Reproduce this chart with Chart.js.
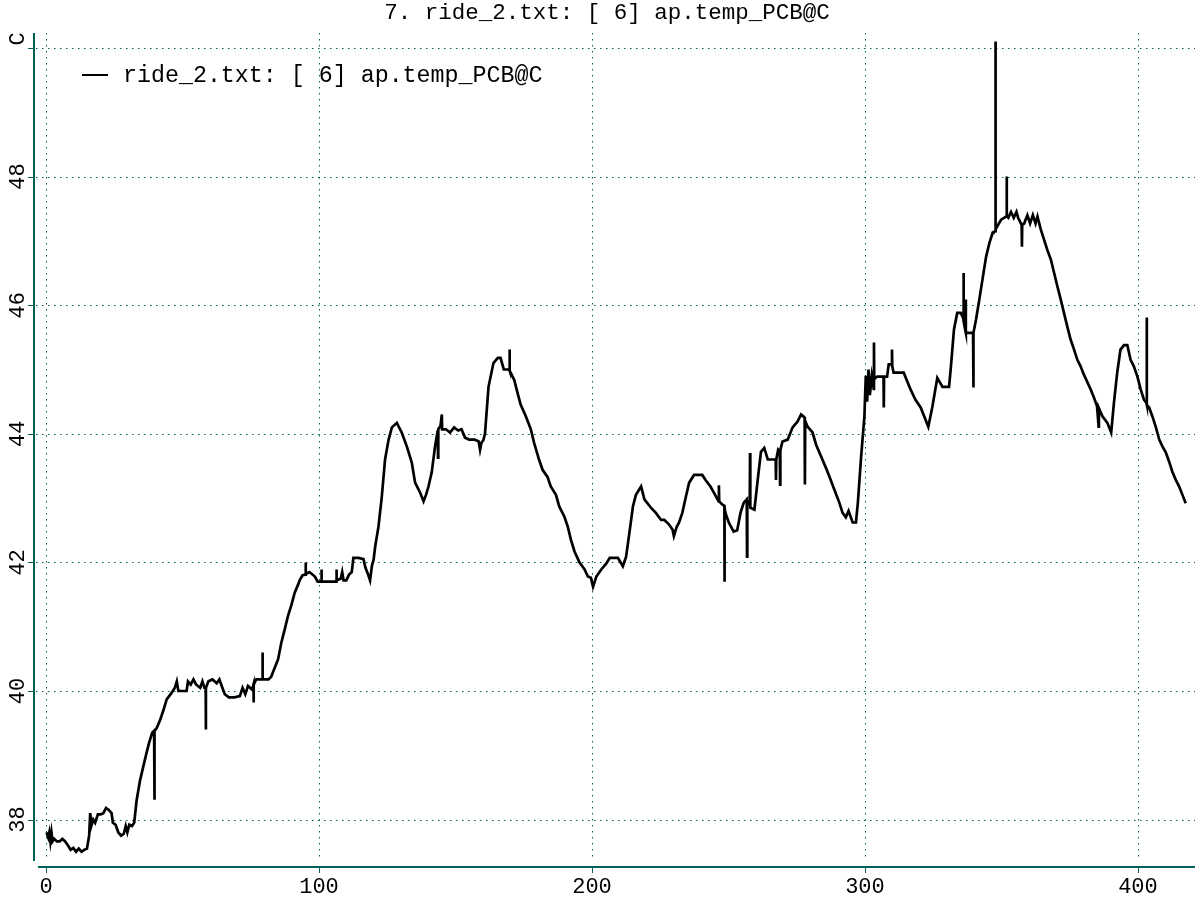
<!DOCTYPE html>
<html>
<head>
<meta charset="utf-8">
<script src="https://cdn.jsdelivr.net/npm/chart.js@4.4.1/dist/chart.umd.min.js"></script>
<style>
  body { margin: 0; background: #fff; }
  #wrap { width: 1200px; height: 900px; }
</style>
</head>
<body>
<div id="wrap"><canvas id="tempChart" width="1200" height="900"></canvas></div>
<script>
// Chart text
const titleText = "7. ride_2.txt: [ 6] ap.temp_PCB@C";
const seriesLabel = "ride_2.txt: [ 6] ap.temp_PCB@C";

// Axis ticks
const xTicks = [0, 100, 200, 300, 400];
const yTicks = [38, 40, 42, 44, 46, 48, 50];
const yTickLabels = ["38", "40", "42", "44", "46", "48", "C"];

// Samples (x position, temperature in C)
const sampleX = [
  0.2, 0.8, 1.2, 1.6, 2.0, 2.4, 3.0, 4.0, 5.0, 6.0, 7.0, 8.0, 9.0, 10.0, 11.0, 12.0, 13.0, 14.0, 15.0,
  15.8, 16.2, 16.6, 17.3, 18.0, 19.0, 20.0, 21.0, 22.0, 23.0, 24.0, 24.5, 25.5, 26.5, 27.5, 28.5, 29.2, 29.8,
  30.5, 31.5, 32.3, 33.2, 34.4, 35.6, 36.9, 37.8, 38.9, 39.6, 39.7, 39.8, 40.5, 41.8, 43.0, 44.2, 46.0,
  47.2, 47.9, 48.5, 50.0, 51.5, 52.0, 53.0, 54.0, 55.0, 56.5, 57.3, 58.0, 58.5, 58.55, 58.6, 59.5, 61.0,
  62.5, 63.5, 64.6, 65.5, 67.0, 69.0, 71.0, 72.0, 73.0, 74.0, 75.5, 76.0, 76.05, 76.1, 77.0, 79.2, 79.3, 79.4,
  81.5, 82.5, 83.2, 85.0, 86.2, 87.4, 88.6, 89.9, 91.1, 92.3, 93.0, 94.0, 95.0, 95.1, 95.2, 96.5, 98.5,
  99.5, 100.8, 100.9, 101.0, 104.0, 106.3, 106.4, 106.5, 108.0, 108.5, 109.0, 110.0, 111.0, 112.0, 112.6,
  114.5, 116.3, 117.0, 118.0, 118.7, 119.4, 120.0, 120.6, 121.8, 123.0, 124.2, 125.5, 126.7, 128.5, 130.3,
  132.2, 134.0, 135.2, 137.1, 138.3, 139.2, 140.1, 141.3, 142.5, 143.5, 143.6, 143.7, 144.5, 145.0, 145.1,
  146.5, 148.0, 149.5, 151.0, 152.2, 153.5, 155.0, 157.0, 158.5, 159.0, 159.5, 160.2, 160.8, 162.1, 163.9,
  165.5, 166.5, 167.7, 169.0, 169.7, 169.8, 169.9, 170.2, 171.5, 172.7, 173.9, 175.8, 177.6, 178.8, 180.6,
  181.9, 183.7, 184.9, 186.8, 188.0, 189.9, 191.1, 192.3, 193.6, 195.4, 197.3, 198.5, 199.6, 200.4, 201.6,
  203.4, 205.2, 206.5, 209.5, 211.3, 212.5, 213.7, 215.0, 216.1, 218.0, 219.2, 221.6, 223.4, 225.3, 226.5,
  228.0, 229.5, 230.0, 231.0, 231.9, 233.1, 234.4, 235.6, 237.4, 240.4, 241.6, 243.4, 244.7, 246.4, 246.5,
  246.6, 247.7, 248.5, 248.55, 248.6, 248.9, 250.1, 251.9, 253.2, 254.4, 255.6, 256.7, 256.8, 256.9, 257.8,
  257.9, 258.0, 259.5, 260.7, 261.9, 263.1, 264.4, 267.3, 267.4, 267.5, 268.2, 268.8, 268.9, 269.0, 269.8,
  271.7, 273.5, 275.3, 276.6, 277.9, 278.0, 278.1, 279.0, 280.8, 282.1, 283.9, 285.7, 287.0, 288.8, 290.6,
  291.8, 293.0, 294.0, 295.5, 296.7, 297.4, 298.6, 299.8, 300.3, 300.8, 301.3, 301.8, 302.5, 303.2, 303.3,
  303.4, 304.5, 306.8, 306.9, 307.0, 308.1, 308.7, 309.8, 309.9, 310.0, 310.5, 312.5, 314.2, 316.7, 318.5,
  320.4, 322.2, 323.2, 324.7, 326.5, 328.4, 330.8, 331.4, 332.6, 333.8, 335.1, 336.0, 336.1, 336.2, 336.8,
  336.9, 337.0, 338.9, 339.6, 339.7, 339.8, 340.7, 341.9, 343.2, 344.4, 345.6, 346.8, 347.7, 347.8, 347.9,
  348.1, 349.9, 351.8, 351.9, 352.0, 352.5, 353.5, 354.5, 355.5, 356.1, 357.4, 357.5, 357.6, 358.3, 359.5,
  360.5, 361.5, 362.5, 363.2, 364.4, 365.6, 366.8, 368.1, 369.3, 370.5, 371.7, 372.9, 374.1, 375.3, 376.6,
  377.8, 379.0, 380.2, 381.5, 382.7, 383.9, 385.0, 385.6, 385.7, 387.0, 388.8, 390.2, 391.2, 392.4, 393.6,
  394.9, 396.1, 397.3, 398.5, 399.8, 401.0, 402.2, 403.1, 403.2, 403.3, 404.1, 405.3, 406.5, 407.8, 409.0,
  410.2, 411.4, 412.6, 413.9, 415.1, 416.3, 417.5
];
const tempC = [
  37.80, 37.72, 37.80, 37.66, 37.80, 37.66, 37.70, 37.66, 37.66, 37.70, 37.66, 37.60, 37.53, 37.56, 37.50, 37.55, 37.50, 37.53, 37.55,
  37.75, 38.10, 37.90, 38.00, 37.95, 38.08, 38.08, 38.10, 38.18, 38.15, 38.10, 37.95, 37.92, 37.80, 37.75, 37.78, 37.90, 37.80,
  37.92, 37.90, 37.95, 38.30, 38.60, 38.82, 39.05, 39.20, 39.35, 39.38, 38.31, 39.38, 39.42, 39.55, 39.70, 39.87, 39.97,
  40.05, 40.15, 40.00, 40.00, 40.00, 40.15, 40.10, 40.18, 40.10, 40.05, 40.15, 40.05, 40.05, 39.40, 40.05, 40.15, 40.18,
  40.12, 40.18, 40.05, 39.95, 39.90, 39.90, 39.92, 40.05, 39.95, 40.08, 40.02, 40.10, 39.82, 40.10, 40.18, 40.18, 40.60, 40.18,
  40.18, 40.22, 40.30, 40.49, 40.75, 40.95, 41.16, 41.34, 41.53, 41.65, 41.73, 41.80, 41.81, 42.00, 41.82, 41.85, 41.78,
  41.70, 41.70, 41.89, 41.70, 41.70, 41.70, 41.89, 41.72, 41.75, 41.85, 41.72, 41.72, 41.81, 41.85, 42.07,
  42.07, 42.05, 41.92, 41.81, 41.72, 41.95, 42.04, 42.25, 42.56, 43.02, 43.60, 43.91, 44.10, 44.17, 44.02,
  43.80, 43.55, 43.24, 43.08, 42.95, 43.05, 43.18, 43.40, 43.80, 44.05, 43.63, 44.07, 44.12, 44.30, 44.07,
  44.07, 44.02, 44.10, 44.05, 44.07, 43.94, 43.91, 43.91, 43.88, 43.75, 43.86, 43.90, 44.00, 44.73, 45.10,
  45.18, 45.18, 45.00, 45.00, 45.00, 45.31, 44.98, 44.95, 44.84, 44.64, 44.45, 44.27, 44.07, 43.86, 43.60,
  43.44, 43.33, 43.18, 43.05, 42.87, 42.71, 42.56, 42.35, 42.17, 42.00, 41.89, 41.78, 41.76, 41.62, 41.78,
  41.89, 41.98, 42.07, 42.07, 41.94, 42.09, 42.46, 42.87, 43.05, 43.18, 42.98, 42.85, 42.77, 42.66, 42.66,
  42.60, 42.51, 42.41, 42.55, 42.62, 42.77, 43.02, 43.24, 43.36, 43.36, 43.28, 43.18, 43.08, 42.95, 43.20,
  42.95, 42.90, 42.88, 41.70, 42.85, 42.77, 42.62, 42.48, 42.50, 42.77, 42.93, 42.98, 42.09, 42.95, 42.90,
  43.70, 42.85, 42.82, 43.28, 43.72, 43.78, 43.60, 43.60, 43.28, 43.60, 43.75, 43.72, 43.21, 43.75, 43.88,
  43.91, 44.10, 44.19, 44.30, 44.25, 43.21, 44.20, 44.11, 44.02, 43.83, 43.65, 43.47, 43.33, 43.13, 42.93,
  42.77, 42.70, 42.80, 42.62, 42.62, 42.93, 43.65, 44.27, 44.90, 44.50, 45.00, 44.60, 44.90, 44.70, 45.42,
  44.85, 44.89, 44.89, 44.41, 44.89, 44.89, 45.08, 45.08, 45.31, 45.05, 44.95, 44.95, 44.95, 44.69, 44.53,
  44.41, 44.22, 44.11, 44.42, 44.87, 44.73, 44.73, 45.00, 45.62, 45.88, 45.88, 45.80, 46.50, 45.75, 45.60,
  46.09, 45.57, 45.57, 45.57, 44.72, 45.57, 45.78, 46.09, 46.44, 46.76, 46.97, 47.13, 47.15, 50.10, 47.18,
  47.20, 47.33, 47.38, 48.00, 47.38, 47.36, 47.45, 47.36, 47.45, 47.36, 47.25, 46.91, 47.25, 47.27, 47.40,
  47.27, 47.40, 47.27, 47.38, 47.18, 47.02, 46.86, 46.71, 46.50, 46.29, 46.09, 45.88, 45.67, 45.47, 45.31,
  45.15, 45.05, 44.92, 44.80, 44.69, 44.56, 44.43, 44.11, 44.40, 44.27, 44.17, 44.02, 44.48, 44.95, 45.31,
  45.38, 45.38, 45.15, 45.05, 44.89, 44.69, 44.53, 44.48, 45.81, 44.45, 44.41, 44.27, 44.11, 43.91, 43.80,
  43.71, 43.57, 43.41, 43.28, 43.18, 43.05, 42.92
];

// Styling
const TEAL = '#00605a';
const MONO = '"Liberation Mono", "DejaVu Sans Mono", monospace';

// Axes, grid and labels drawn by hand from the scales
const framePlugin = {
  id: 'frame',
  beforeDatasetsDraw(chart) {
    const { ctx, chartArea: a, scales: { x, y } } = chart;
    ctx.save();
    ctx.strokeStyle = TEAL;
    ctx.lineWidth = 1;
    ctx.setLineDash([1.5, 4.5]);
    yTicks.forEach(v => {
      const py = Math.round(y.getPixelForValue(v)) + 0.5;
      ctx.beginPath();
      ctx.moveTo(a.left + 2, py);
      ctx.lineTo(a.right, py);
      ctx.stroke();
    });
    xTicks.forEach(v => {
      const px = Math.round(x.getPixelForValue(v)) + 0.5;
      ctx.beginPath();
      ctx.moveTo(px, a.top);
      ctx.lineTo(px, a.bottom - 2);
      ctx.stroke();
    });
    ctx.restore();
  },
  afterDraw(chart) {
    const { ctx, chartArea: a, scales: { x, y } } = chart;
    ctx.save();

    // axis lines
    ctx.strokeStyle = TEAL;
    ctx.lineWidth = 2;
    ctx.beginPath();
    ctx.moveTo(a.left, a.top);
    ctx.lineTo(a.left, a.bottom);
    ctx.moveTo(a.left + 4, a.bottom + 6);
    ctx.lineTo(a.right, a.bottom + 6);
    ctx.stroke();

    // tick marks
    ctx.lineWidth = 1;
    yTicks.forEach(v => {
      const py = Math.round(y.getPixelForValue(v)) + 0.5;
      ctx.beginPath();
      ctx.moveTo(a.left - 6, py);
      ctx.lineTo(a.left, py);
      ctx.stroke();
    });
    xTicks.forEach(v => {
      const px = Math.round(x.getPixelForValue(v)) + 0.5;
      ctx.beginPath();
      ctx.moveTo(px, a.bottom + 6);
      ctx.lineTo(px, a.bottom + 12);
      ctx.stroke();
    });

    // tick labels
    ctx.fillStyle = '#000';
    ctx.font = '22px ' + MONO;
    ctx.textAlign = 'center';
    ctx.textBaseline = 'alphabetic';
    xTicks.forEach(v => {
      ctx.fillText(String(v), x.getPixelForValue(v), 893);
    });
    yTicks.forEach((v, i) => {
      let py = y.getPixelForValue(v);
      if (yTickLabels[i] === 'C') py -= 9;
      ctx.save();
      ctx.translate(24, py);
      ctx.rotate(-Math.PI / 2);
      ctx.fillText(yTickLabels[i], 0, 0);
      ctx.restore();
    });

    // title
    ctx.font = '22.5px ' + MONO;
    ctx.fillText(titleText, 607, 19);

    // legend
    ctx.strokeStyle = '#000';
    ctx.lineWidth = 2;
    ctx.beginPath();
    ctx.moveTo(82, 75);
    ctx.lineTo(108, 75);
    ctx.stroke();
    ctx.font = '23.3px ' + MONO;
    ctx.textAlign = 'left';
    ctx.fillText(seriesLabel, 123, 82);

    ctx.restore();
  }
};

const ctx = document.getElementById('tempChart').getContext('2d');
const tempChart = new Chart(ctx, {
  type: 'line',
  data: {
    datasets: [{
      label: seriesLabel,
      data: sampleX.map((v, i) => ({ x: v, y: tempC[i] })),
      borderColor: '#000',
      borderWidth: 2.7,
      pointRadius: 0,
      tension: 0,
      fill: false
    }]
  },
  options: {
    responsive: false,
    animation: false,
    layout: { padding: { left: 34, right: 5, top: 33, bottom: 39 } },
    plugins: {
      legend: { display: false },
      title: { display: false },
      tooltip: { enabled: false }
    },
    scales: {
      x: { type: 'linear', min: -4.4, max: 420.9, display: false },
      y: { type: 'linear', min: 37.356, max: 50.233, display: false }
    }
  },
  plugins: [framePlugin]
});
</script>
</body>
</html>
